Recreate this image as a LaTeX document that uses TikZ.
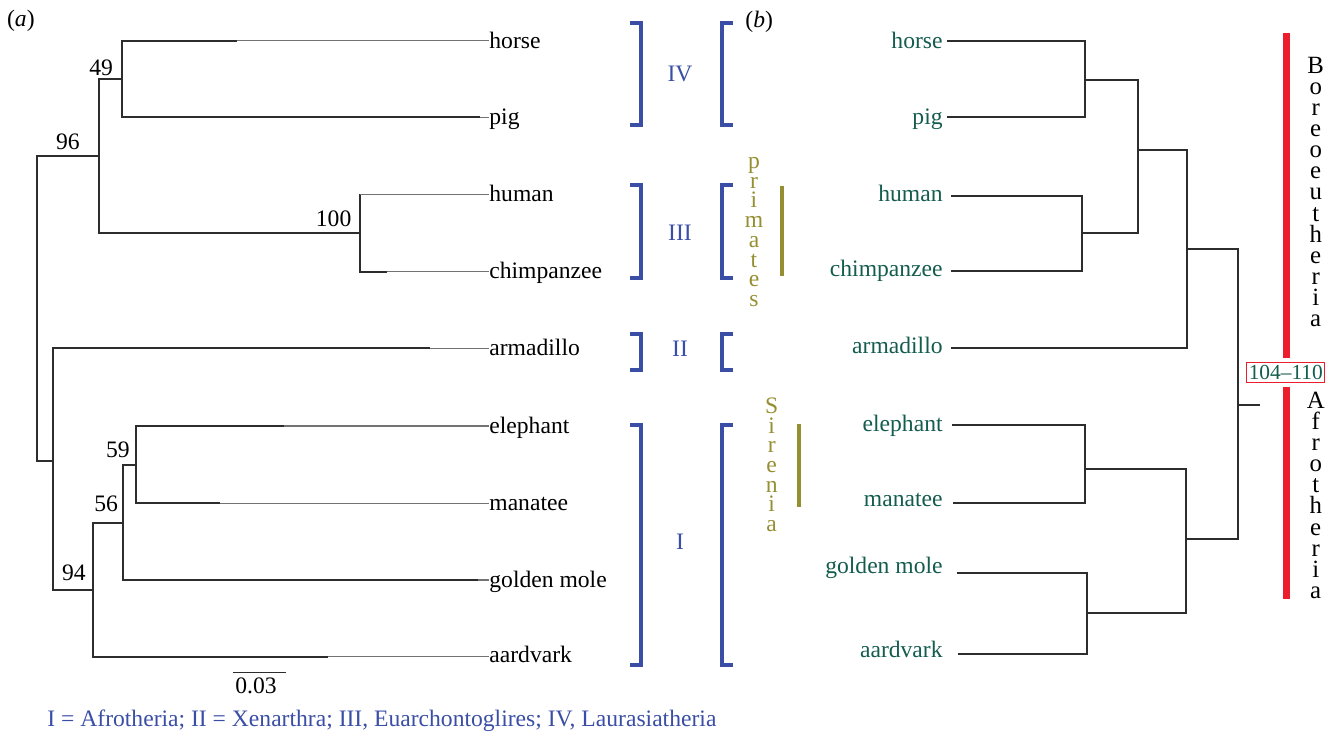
\documentclass[tikz,border=0pt]{standalone}
\usepackage{fontspec}
\setmainfont{Liberation Serif}
\definecolor{brc}{RGB}{45,45,45}
\definecolor{thinc}{RGB}{115,115,115}
\definecolor{bluec}{RGB}{58,78,165}
\definecolor{olivec}{RGB}{150,142,50}
\definecolor{tealc}{RGB}{20,92,78}
\definecolor{redc}{RGB}{236,30,46}
\begin{document}
\begin{tikzpicture}[x=0.5pt,y=-0.5pt,
  br/.style={draw=brc,line width=1pt},
  thinbr/.style={draw=thinc,line width=0.55pt},
  lab/.style={font=\fontsize{11.8}{14}\selectfont,inner sep=0pt},
  num/.style={font=\fontsize{11.8}{14}\selectfont,inner sep=0pt,anchor=base east},
  brk/.style={draw=bluec,line width=2pt},
  stk/.style={font=\fontsize{11.8}{9.85}\selectfont,inner sep=0pt,anchor=north,align=center},
  bigstk/.style={font=\fontsize{12.4}{10.55}\selectfont,inner sep=0pt,anchor=north,align=center}]
\useasboundingbox (0,0) rectangle (1338,736);

% panel labels
\node[lab,anchor=base west] (pa) at (6.7,26.7) {(\textit{a})};
\node[lab,anchor=base west] (pb) at (745,27) {(\textit{b})};

% ---------- left tree ----------
\coordinate (Lroot) at (36.7,308);
\coordinate (L96) at (99.3,155.7);
\coordinate (L49) at (121.7,79);
\coordinate (L100) at (360,233);
\coordinate (LX) at (53.3,461);
\coordinate (L94) at (93.3,590);
\coordinate (L56) at (122.7,522.7);
\coordinate (L59) at (136,465);
\coordinate (tHorse) at (236.7,40.7);
\coordinate (tPig) at (480,117.3);
\coordinate (tHuman) at (360,194.3);
\coordinate (tChimp) at (386.7,271.7);
\coordinate (tArm) at (430,348.3);
\coordinate (tEle) at (284,426);
\coordinate (tMan) at (220,503.3);
\coordinate (tGol) at (478,580);
\coordinate (tAar) at (327.7,656.7);

\draw[br] (Lroot) |- (L96);
\draw[br] (Lroot) |- (LX);
\draw[br] (L96) |- (L49);
\draw[br] (L96) |- (L100);
\draw[br] (L49) |- (tHorse);
\draw[br] (L49) |- (tPig);
\draw[br] (L100) |- (tHuman);
\draw[br] (L100) |- (tChimp);
\draw[br] (LX) |- (tArm);
\draw[br] (LX) |- (L94);
\draw[br] (L94) |- (L56);
\draw[br] (L94) |- (tAar);
\draw[br] (L56) |- (L59);
\draw[br] (L56) |- (tGol);
\draw[br] (L59) |- (tEle);
\draw[br] (L59) |- (tMan);

\node[lab,anchor=base west] (Lhorse) at (489,48.2) {horse};
\node[lab,anchor=base west] (Lpig) at (489,124.8) {pig};
\node[lab,anchor=base west] (Lhuman) at (489,201.3) {human};
\node[lab,anchor=base west] (Lchimp) at (489,278.7) {chimpanzee};
\node[lab,anchor=base west] (Larm) at (489,355.3) {armadillo};
\node[lab,anchor=base west] (Lele) at (489,433) {elephant};
\node[lab,anchor=base west] (Lman) at (489,510.5) {manatee};
\node[lab,anchor=base west] (Lgol) at (489,587) {golden mole};
\node[lab,anchor=base west] (Laar) at (489,662.5) {aardvark};

\draw[thinbr] (tHorse) -- (Lhorse.west |- tHorse);
\draw[thinbr] (tPig) -- (Lpig.west |- tPig);
\draw[thinbr] (tHuman) -- (Lhuman.west |- tHuman);
\draw[thinbr] (tChimp) -- (Lchimp.west |- tChimp);
\draw[thinbr] (tArm) -- (Larm.west |- tArm);
\draw[thinbr] (tEle) -- (Lele.west |- tEle);
\draw[thinbr] (tMan) -- (Lman.west |- tMan);
\draw[thinbr] (tGol) -- (Lgol.west |- tGol);
\draw[thinbr] (tAar) -- (Laar.west |- tAar);

\node[num] (b49) at (113.3,75) {49};
\node[num] (b96) at (80,149) {96};
\node[num] (b100) at (351.7,226.7) {100};
\node[num] (b59) at (130,457.3) {59};
\node[num] (b56) at (118.3,511.7) {56};
\node[num] (b94) at (86,580) {94};

% scale bar
\coordinate (sb1) at (232.7,672.3);
\coordinate (sb2) at (285.7,672.3);
\draw[draw=brc,line width=0.6pt] (sb1) -- (sb2);
\node[lab,anchor=base] (sbl) at (256,693.3) {0.03};

% legend
\node[lab,anchor=base west,text=bluec] (leg) at (47,726.7) {I = Afrotheria; II = Xenarthra; III, Euarchontoglires; IV, Laurasiatheria};

% ---------- brackets ----------
\draw[brk] (630,23) -- (640.5,23) -- (640.5,125) -- (630,125);
\draw[brk] (733,23) -- (722,23) -- (722,125) -- (733,125);
\draw[brk] (630,185) -- (640.5,185) -- (640.5,278) -- (630,278);
\draw[brk] (733,185) -- (722,185) -- (722,278) -- (733,278);
\draw[brk] (630,334) -- (640.5,334) -- (640.5,370) -- (630,370);
\draw[brk] (733,334) -- (722,334) -- (722,370) -- (733,370);
\draw[brk] (630,425) -- (640.5,425) -- (640.5,665) -- (630,665);
\draw[brk] (733,425) -- (722,425) -- (722,665) -- (733,665);
\node[lab,anchor=base,text=bluec] (cIV) at (680,81.7) {IV};
\node[lab,anchor=base,text=bluec] (cIII) at (680,240) {III};
\node[lab,anchor=base,text=bluec] (cII) at (680,356.7) {II};
\node[lab,anchor=base,text=bluec] (cI) at (680,549.3) {I};

% primates / Sirenia
\node[stk,text=olivec] (prim) at (754,157) {p\\r\\i\\m\\a\\t\\e\\s};
\draw[draw=olivec,line width=2pt] (781.7,185.7) -- (781.7,275.7);
\node[stk,text=olivec] (sire) at (771.7,397.3) {S\\i\\r\\e\\n\\i\\a};
\draw[draw=olivec,line width=2pt] (799,424) -- (799,507.3);

% ---------- right tree ----------
\coordinate (sHorse) at (946.7,41.3);
\coordinate (sPig) at (946.7,117.3);
\coordinate (sHuman) at (951,195.7);
\coordinate (sChimp) at (951,271);
\coordinate (sArm) at (950.7,348.3);
\coordinate (sEle) at (952.3,425);
\coordinate (sMan) at (953.3,503.3);
\coordinate (sGol) at (956.7,572.7);
\coordinate (sAar) at (958.3,654);
\coordinate (R1) at (1085,80.3);
\coordinate (R2) at (1082.3,233.3);
\coordinate (R3) at (1137.7,150);
\coordinate (R4) at (1186.7,249);
\coordinate (R5) at (1085,468.7);
\coordinate (R6) at (1086.7,613.3);
\coordinate (R7) at (1185.7,539);
\coordinate (Rroot) at (1237.7,405);
\coordinate (Rstub) at (1260,405);

\draw[br] (sHorse) -| (R1);
\draw[br] (sPig) -| (R1);
\draw[br] (sHuman) -| (R2);
\draw[br] (sChimp) -| (R2);
\draw[br] (R1) -| (R3);
\draw[br] (R2) -| (R3);
\draw[br] (R3) -| (R4);
\draw[br] (sArm) -| (R4);
\draw[br] (sEle) -| (R5);
\draw[br] (sMan) -| (R5);
\draw[br] (sGol) -| (R6);
\draw[br] (sAar) -| (R6);
\draw[br] (R5) -| (R7);
\draw[br] (R6) -| (R7);
\draw[br] (R4) -| (Rroot);
\draw[br] (R7) -| (Rroot);
\draw[br] (Rroot) -- (Rstub);

\node[lab,anchor=base east,text=tealc] (Rhorse) at (943,48.3) {horse};
\node[lab,anchor=base east,text=tealc] (Rpig) at (943,124.5) {pig};
\node[lab,anchor=base east,text=tealc] (Rhuman) at (943,201) {human};
\node[lab,anchor=base east,text=tealc] (Rchimp) at (943,276.7) {chimpanzee};
\node[lab,anchor=base east,text=tealc] (Rarm) at (943,353.3) {armadillo};
\node[lab,anchor=base east,text=tealc] (Rele) at (943,431) {elephant};
\node[lab,anchor=base east,text=tealc] (Rman) at (943,506.7) {manatee};
\node[lab,anchor=base east,text=tealc] (Rgol) at (943,573.3) {golden mole};
\node[lab,anchor=base east,text=tealc] (Raar) at (943,657.7) {aardvark};

% red bars and age box
\draw[draw=redc,line width=3.5pt] (1286,33.3) -- (1286,358.3);
\draw[draw=redc,line width=3.5pt] (1286,386.7) -- (1286,599.3);
\node[draw=redc,line width=0.5pt,text=tealc,font=\fontsize{10.7}{12}\selectfont,
  inner sep=0pt,minimum width=39pt,minimum height=9.8pt] (age) at (1285.8,372.5) {104–110};

\node[bigstk] (boreo) at (1315.7,56.7) {B\\o\\r\\e\\o\\e\\u\\t\\h\\e\\r\\i\\a};
\node[bigstk] (afro) at (1315.7,391.7) {A\\f\\r\\o\\t\\h\\e\\r\\i\\a};
\end{tikzpicture}
\end{document}
